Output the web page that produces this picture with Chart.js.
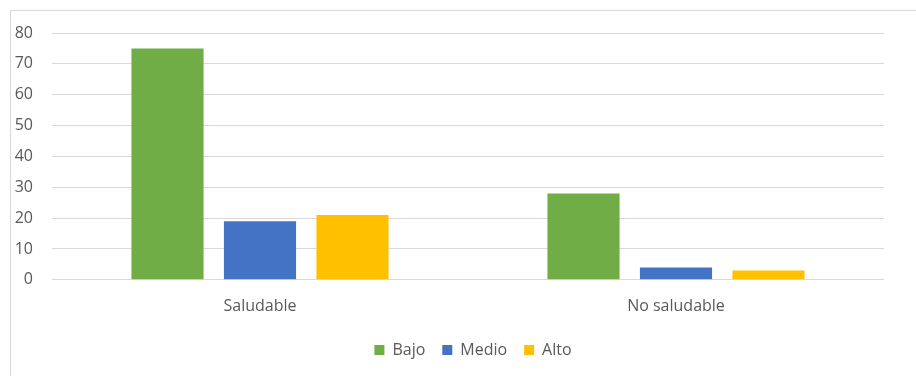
<!DOCTYPE html>
<html>
<head>
<meta charset="utf-8">
<script src="https://cdn.jsdelivr.net/npm/chart.js@4"></script>
<style>
  html, body { margin: 0; padding: 0; background: #fff; }
  #wrap { width: 916px; height: 376px; }
</style>
</head>
<body>
<div id="wrap"><canvas id="mycanvas" width="916" height="376"></canvas></div>
<script>
var categorias = ['Saludable', 'No saludable'];
var bajo = [75, 28];
var medio = [19, 4];
var alto = [21, 3];
var yTicks = [0, 10, 20, 30, 40, 50, 60, 70, 80];

// light grey frame round the chart, as in the spreadsheet export
var marco = {
	id: 'marco',
	beforeDraw: function(chart){
		var c = chart.ctx;
		c.save();
		c.fillStyle = '#fff';
		c.fillRect(0, 0, chart.width, chart.height);
		c.strokeStyle = '#d9d9d9';
		c.lineWidth = 1;
		c.strokeRect(10.5, 10.5, 1000, 1000);
		c.restore();
	},
	// the original chart is wider than the crop, so its legend sits right of centre
	afterLayout: function(chart){
		if (chart.legend) {
			chart.legend.left += 31;
			chart.legend.right += 31;
		}
	}
};

var fuente = "'Open Sans', sans-serif";

var chartdata = {
	labels: categorias,
	datasets: [
		{ label: 'Bajo', backgroundColor: '#70ad47', data: bajo },
		{ label: 'Medio', backgroundColor: '#4472c4', data: medio },
		{ label: 'Alto', backgroundColor: '#ffc000', data: alto }
	]
};

var ctx = document.getElementById('mycanvas');
var barGraph = new Chart(ctx, {
	type: 'bar',
	data: chartdata,
	plugins: [marco],
	options: {
		responsive: false,
		animation: false,
		devicePixelRatio: 1,
		categoryPercentage: 0.667,
		barPercentage: 0.78,
		layout: { padding: { left: 0, right: 32, top: 33, bottom: 8 } },
		plugins: {
			tooltip: { enabled: false },
			legend: {
				position: 'bottom',
				labels: {
					boxWidth: 10,
					boxHeight: 10,
					padding: 17,
					color: '#595959',
					font: { family: fuente, size: 16 }
				}
			}
		},
		scales: {
			x: {
				grid: { display: false },
				border: { display: false },
				ticks: { color: '#595959', padding: 9, font: { family: fuente, size: 16 } }
			},
			y: {
				min: 0,
				max: 80,
				afterBuildTicks: function(axis){
					axis.ticks = yTicks.map(function(v){ return { value: v }; });
				},
				afterFit: function(axis){ axis.width = 52; },
				grid: { color: '#d9d9d9', drawTicks: false },
				border: { display: false },
				ticks: { color: '#595959', padding: 19, font: { family: fuente, size: 16 } }
			}
		}
	}
});
</script>
</body>
</html>
